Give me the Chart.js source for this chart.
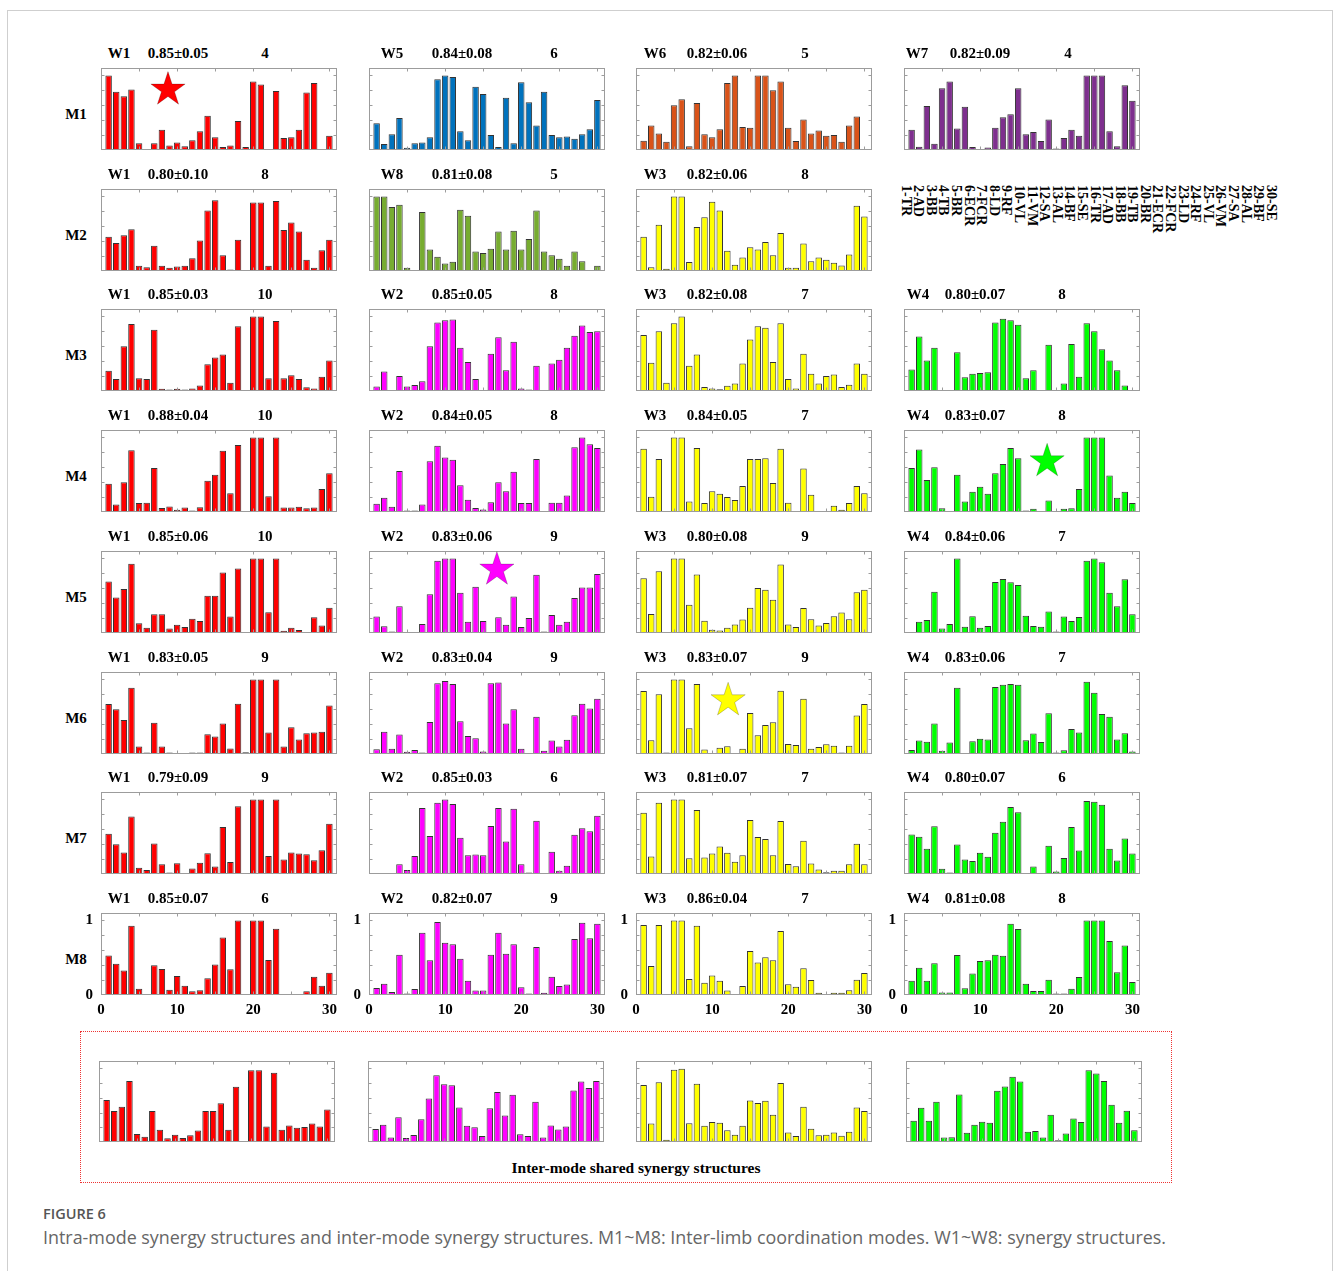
<!DOCTYPE html>
<html><head><meta charset="utf-8">
<script src="https://cdn.jsdelivr.net/npm/chart.js@4"></script>
<style>
body{margin:0;background:#fff;width:1333px;height:1271px;position:relative;overflow:hidden;}
.t{position:absolute;font:bold 15px 'Liberation Serif',serif;color:#000;transform:translate(-50%,-50%);white-space:nowrap;line-height:1;}
.m{position:absolute;font:bold 15px 'Liberation Serif',serif;color:#000;transform:translate(-50%,-50%);white-space:nowrap;line-height:1;}
canvas{position:absolute;}
#frame{position:absolute;left:7px;top:10px;width:1324px;height:1300px;border:1px solid #cfcfcf;}
#dash{position:absolute;left:80px;top:1031px;width:1090px;height:150px;border:1px dotted #ee3333;}
#muscles{position:absolute;left:899px;top:185px;writing-mode:vertical-lr;font:bold 14px 'Liberation Serif',serif;line-height:12.6px;color:#000;white-space:nowrap;}
#shared{position:absolute;left:636px;top:1168px;transform:translate(-50%,-50%);font:bold 15.5px 'Liberation Serif',serif;white-space:nowrap;}
#fig{position:absolute;left:43px;top:1204px;font:600 14.5px 'Open Sans',sans-serif;color:#555;}
#cap{position:absolute;left:43px;top:1225px;font:400 17.9px 'Open Sans',sans-serif;color:#666;white-space:nowrap;}
</style></head><body>
<div id="frame"></div>
<div id="dash"></div>
<div id="shared">Inter-mode shared synergy structures</div>
<div id="fig">FIGURE 6</div>
<div id="cap">Intra-mode synergy structures and inter-mode synergy structures. M1~M8: Inter-limb coordination modes. W1~W8: synergy structures.</div>
<div id="muscles"></div>
<script>
// ---------- data ----------
const muscles = ['1-TR','2-AD','3-BB','4-TB','5-BR','6-ECR','7-FCR','8-LD','9-RF','10-VL','11-VM','12-SA','13-AL','14-BF','15-SE','16-TR','17-AD','18-BB','19-TB','20-BR','21-ECR','22-FCR','23-LD','24-RF','25-VL','26-VM','27-SA','28-AL','29-BF','30-SE'];
const modes = ['M1','M2','M3','M4','M5','M6','M7','M8'];
const xTickLabels = [0,10,20,30];
const yTickLabels = [0,1];

const M1_W1 = [1.0,0.78,0.72,0.81,0.09,0.01,0.09,0.27,0.06,0.10,0.05,0.13,0.25,0.46,0.17,0.04,0.06,0.39,0.04,0.92,0.88,0.0,0.79,0.16,0.17,0.27,0.77,0.90,0.01,0.19];
const M1_W5 = [0.36,0.08,0.21,0.43,0.03,0.09,0.10,0.17,0.95,1.0,0.98,0.25,0.13,0.85,0.75,0.20,0.04,0.70,0.09,0.91,0.64,0.33,0.78,0.20,0.17,0.18,0.15,0.21,0.28,0.67];
const M1_W6 = [0.125,0.33,0.22,0.11,0.60,0.68,0.05,0.63,0.21,0.17,0.28,0.90,1.0,0.31,0.30,1.0,1.0,0.80,0.92,0.30,0.12,0.41,0.22,0.26,0.19,0.20,0.11,0.33,0.45,0.005];
const M1_W7 = [0.27,0.045,0.59,0.085,0.83,0.92,0.29,0.58,0.04,0.01,0.035,0.30,0.44,0.48,0.83,0.21,0.24,0.12,0.41,0.02,0.16,0.27,0.19,1.0,1.0,1.0,0.25,0.05,0.87,0.66];
const M2_W1 = [0.46,0.375,0.48,0.56,0.07,0.05,0.34,0.07,0.045,0.06,0.07,0.17,0.41,0.81,0.95,0.21,0.02,0.42,0.0,0.92,0.92,0.07,0.94,0.55,0.65,0.53,0.15,0.045,0.28,0.42];
const M2_W8 = [1.0,1.0,0.86,0.89,0.045,0.01,0.79,0.29,0.19,0.10,0.125,0.82,0.74,0.26,0.24,0.30,0.53,0.29,0.54,0.29,0.43,0.81,0.26,0.21,0.165,0.07,0.26,0.13,0.0,0.07];
const M2_W3 = [0.46,0.05,0.62,0.03,1.0,1.0,0.12,0.59,0.72,0.93,0.81,0.27,0.085,0.18,0.32,0.29,0.39,0.21,0.51,0.045,0.045,0.37,0.13,0.18,0.15,0.11,0.075,0.22,0.875,0.73];
const M3_W1 = [0.27,0.16,0.60,0.90,0.17,0.16,0.82,0.03,0.02,0.03,0.02,0.035,0.075,0.36,0.45,0.49,0.11,0.87,0.0,1.0,1.0,0.17,0.94,0.17,0.21,0.16,0.05,0.035,0.19,0.41];
const M3_W2 = [0.06,0.26,0.0,0.20,0.06,0.08,0.13,0.60,0.92,0.95,0.96,0.58,0.39,0.16,0.0,0.50,0.72,0.28,0.66,0.035,0.02,0.34,0.015,0.37,0.42,0.58,0.74,0.88,0.79,0.80];
const M3_W3 = [0.75,0.38,0.80,0.11,0.91,1.0,0.34,0.49,0.055,0.035,0.025,0.07,0.10,0.37,0.69,0.87,0.85,0.39,0.91,0.16,0.035,0.50,0.23,0.10,0.20,0.22,0.055,0.085,0.37,0.23];
const M3_W4 = [0.29,0.73,0.41,0.58,0.015,0.015,0.52,0.185,0.23,0.24,0.25,0.92,0.97,0.95,0.89,0.17,0.28,0.015,0.62,0.0,0.10,0.63,0.19,0.91,0.80,0.56,0.41,0.28,0.075,0.015];
const M4_W1 = [0.38,0.10,0.40,0.83,0.12,0.125,0.59,0.055,0.075,0.03,0.06,0.02,0.065,0.42,0.50,0.82,0.25,0.90,0.0,1.0,1.0,0.21,1.0,0.06,0.06,0.07,0.05,0.06,0.31,0.52];
const M4_W2 = [0.11,0.19,0.07,0.55,0.02,0.02,0.10,0.68,0.89,0.73,0.70,0.36,0.165,0.055,0.035,0.13,0.40,0.28,0.54,0.12,0.12,0.71,0.0,0.125,0.125,0.22,0.87,1.0,0.91,0.86];
const M4_W3 = [0.85,0.205,0.71,0.0,1.0,1.0,0.14,0.86,0.12,0.28,0.245,0.20,0.16,0.35,0.71,0.71,0.72,0.39,0.85,0.125,0.015,0.585,0.23,0.01,0.01,0.085,0.03,0.12,0.35,0.25];
const M4_W4 = [0.59,0.84,0.43,0.60,0.05,0.005,0.50,0.14,0.27,0.34,0.245,0.52,0.645,0.86,0.72,0.02,0.045,0.015,0.155,0.01,0.045,0.05,0.31,1.0,1.0,1.0,0.49,0.19,0.27,0.12];
const M5_W1 = [0.69,0.475,0.59,0.93,0.13,0.07,0.25,0.25,0.06,0.11,0.08,0.19,0.16,0.50,0.50,0.81,0.22,0.865,0.0,1.0,1.0,0.28,1.0,0.03,0.07,0.04,0.005,0.21,0.10,0.34];
const M5_W2 = [0.22,0.09,0.02,0.36,0.015,0.0,0.12,0.52,0.97,1.0,1.0,0.54,0.15,0.62,0.16,0.0,0.21,0.11,0.49,0.08,0.20,0.78,0.02,0.24,0.11,0.15,0.47,0.61,0.61,0.79];
const M5_W3 = [0.735,0.255,0.83,0.0,1.0,1.0,0.38,0.785,0.165,0.045,0.035,0.07,0.115,0.18,0.34,0.605,0.58,0.445,0.92,0.115,0.08,0.335,0.185,0.10,0.135,0.225,0.275,0.185,0.545,0.58];
const M5_W4 = [0.01,0.15,0.175,0.555,0.06,0.12,1.0,0.085,0.225,0.07,0.095,0.685,0.725,0.68,0.645,0.23,0.095,0.085,0.29,0.02,0.22,0.16,0.215,0.97,1.0,0.95,0.54,0.36,0.72,0.25];
const M6_W1 = [0.67,0.60,0.455,0.89,0.10,0.02,0.42,0.10,0.02,0.015,0.01,0.02,0.02,0.265,0.235,0.41,0.075,0.675,0.025,1.0,1.0,0.29,1.0,0.10,0.36,0.195,0.28,0.29,0.30,0.65];
const M6_W2 = [0.065,0.30,0.07,0.26,0.03,0.055,0.02,0.43,0.95,0.98,0.94,0.44,0.24,0.21,0.035,0.95,0.96,0.41,0.60,0.07,0.015,0.50,0.045,0.18,0.10,0.19,0.52,0.675,0.61,0.74];
const M6_W3 = [0.845,0.185,0.80,0.02,1.0,1.0,0.345,0.94,0.06,0.01,0.085,0.105,0.015,0.07,0.55,0.25,0.39,0.425,0.85,0.135,0.12,0.74,0.07,0.095,0.13,0.11,0.02,0.11,0.515,0.67];
const M6_W4 = [0.055,0.18,0.165,0.41,0.045,0.155,0.89,0.0,0.17,0.205,0.195,0.90,0.93,0.94,0.93,0.185,0.275,0.16,0.545,0.02,0.05,0.335,0.29,0.97,0.82,0.535,0.50,0.195,0.28,0.035];
const M7_W1 = [0.54,0.40,0.29,0.77,0.085,0.055,0.41,0.13,0.02,0.145,0.0,0.075,0.15,0.28,0.10,0.63,0.16,0.91,0.0,1.0,1.0,0.24,1.0,0.195,0.29,0.275,0.265,0.185,0.32,0.675];
const M7_W2 = [0.005,0.005,0.005,0.13,0.055,0.24,0.885,0.51,0.955,1.0,0.94,0.485,0.25,0.26,0.25,0.645,0.885,0.435,0.875,0.13,0.02,0.715,0.0,0.30,0.045,0.11,0.525,0.615,0.575,0.78];
const M7_W3 = [0.82,0.235,0.955,0.01,1.0,1.0,0.21,0.86,0.22,0.275,0.37,0.285,0.165,0.25,0.725,0.495,0.47,0.25,0.71,0.135,0.105,0.445,0.14,0.06,0.025,0.045,0.045,0.13,0.405,0.13];
const M7_W4 = [0.53,0.50,0.34,0.64,0.07,0.02,0.395,0.195,0.175,0.285,0.23,0.555,0.70,0.90,0.83,0.01,0.10,0.0,0.38,0.035,0.215,0.63,0.315,0.98,0.97,0.93,0.34,0.18,0.475,0.275];
const M8_W1 = [0.53,0.42,0.33,0.93,0.085,0.0,0.40,0.35,0.07,0.255,0.125,0.05,0.065,0.225,0.41,0.77,0.345,1.0,0.0,1.0,1.0,0.47,0.89,0.005,0.01,0.005,0.05,0.245,0.125,0.30];
const M8_W2 = [0.095,0.15,0.04,0.54,0.02,0.08,0.835,0.465,0.98,0.70,0.68,0.485,0.19,0.06,0.06,0.54,0.835,0.555,0.68,0.105,0.02,0.645,0.03,0.245,0.12,0.14,0.75,0.97,0.76,0.955];
const M8_W3 = [0.94,0.39,0.94,0.0,1.0,1.0,0.215,0.93,0.165,0.26,0.19,0.06,0.005,0.12,0.59,0.435,0.505,0.465,0.86,0.145,0.11,0.36,0.20,0.03,0.015,0.03,0.03,0.065,0.205,0.295];
const M8_W4 = [0.19,0.365,0.19,0.425,0.035,0.035,0.535,0.09,0.29,0.455,0.465,0.54,0.525,0.955,0.885,0.15,0.055,0.055,0.205,0.02,0.02,0.085,0.24,1.0,1.0,1.0,0.725,0.305,0.665,0.175];
const SH_W1 = [0.57,0.42,0.48,0.83,0.11,0.07,0.42,0.165,0.05,0.10,0.055,0.09,0.155,0.42,0.42,0.525,0.165,0.75,0.01,0.975,0.975,0.21,0.94,0.165,0.225,0.195,0.205,0.25,0.21,0.44];
const SH_W2 = [0.175,0.235,0.06,0.335,0.055,0.095,0.31,0.59,0.905,0.785,0.77,0.47,0.22,0.20,0.08,0.46,0.68,0.36,0.64,0.105,0.08,0.545,0.06,0.225,0.17,0.21,0.70,0.82,0.735,0.83];
const SH_W3 = [0.775,0.25,0.81,0.03,0.98,0.995,0.255,0.79,0.22,0.27,0.26,0.16,0.10,0.22,0.565,0.53,0.56,0.37,0.80,0.13,0.08,0.48,0.18,0.09,0.10,0.13,0.085,0.14,0.47,0.42];
const SH_W4 = [0.29,0.465,0.29,0.545,0.06,0.065,0.645,0.125,0.235,0.275,0.26,0.695,0.755,0.885,0.82,0.14,0.15,0.06,0.37,0.025,0.115,0.32,0.27,0.975,0.93,0.83,0.505,0.26,0.425,0.16];

// panel list: [row, col, synergy, similarity, count, values]
const panels = [
 [0,0,'W1','0.85±0.05','4',M1_W1],[0,1,'W5','0.84±0.08','6',M1_W5],[0,2,'W6','0.82±0.06','5',M1_W6],[0,3,'W7','0.82±0.09','4',M1_W7],
 [1,0,'W1','0.80±0.10','8',M2_W1],[1,1,'W8','0.81±0.08','5',M2_W8],[1,2,'W3','0.82±0.06','8',M2_W3],
 [2,0,'W1','0.85±0.03','10',M3_W1],[2,1,'W2','0.85±0.05','8',M3_W2],[2,2,'W3','0.82±0.08','7',M3_W3],[2,3,'W4','0.80±0.07','8',M3_W4],
 [3,0,'W1','0.88±0.04','10',M4_W1],[3,1,'W2','0.84±0.05','8',M4_W2],[3,2,'W3','0.84±0.05','7',M4_W3],[3,3,'W4','0.83±0.07','8',M4_W4],
 [4,0,'W1','0.85±0.06','10',M5_W1],[4,1,'W2','0.83±0.06','9',M5_W2],[4,2,'W3','0.80±0.08','9',M5_W3],[4,3,'W4','0.84±0.06','7',M5_W4],
 [5,0,'W1','0.83±0.05','9',M6_W1],[5,1,'W2','0.83±0.04','9',M6_W2],[5,2,'W3','0.83±0.07','9',M6_W3],[5,3,'W4','0.83±0.06','7',M6_W4],
 [6,0,'W1','0.79±0.09','9',M7_W1],[6,1,'W2','0.85±0.03','6',M7_W2],[6,2,'W3','0.81±0.07','7',M7_W3],[6,3,'W4','0.80±0.07','6',M7_W4],
 [7,0,'W1','0.85±0.07','6',M8_W1],[7,1,'W2','0.82±0.07','9',M8_W2],[7,2,'W3','0.86±0.04','7',M8_W3],[7,3,'W4','0.81±0.08','8',M8_W4]
];
const sharedPanels = [['W1',SH_W1],['W2',SH_W2],['W3',SH_W3],['W4',SH_W4]];
// highlighted synergies (star marker, in data units of the panel)
const stars = [[0,0,8.8,0.81],[3,3,18.8,0.68],[4,1,16.8,0.85],[5,2,12.1,0.72]];

// ---------- style / layout ----------
const colors = {W1:'#ff0000',W2:'#ff00ff',W3:'#ffff00',W4:'#00ff00',W5:'#0072bd',W6:'#d95319',W7:'#7e2f8e',W8:'#77ac30'};
const colLeft = [101,369,636,904];
const rowTop = [68,189,309,430,551,672,792,913];
const PW = 236, PH = 82;
const titleOff = [[18,77,164],[23,93,185],[19,81,169],[14,71,158]];
const sharedLeft = [99,368,636,906], sharedTop = 1061;
const PL = 34, PT = 4, PR = 14, PB = 26;

document.getElementById('muscles').innerHTML = muscles.join('<br>');

function addText(cls, txt, x, y){
  const d = document.createElement('div'); d.className = cls; d.textContent = txt;
  d.style.left = x + 'px'; d.style.top = y + 'px'; document.body.appendChild(d);
}
modes.forEach((m,i)=> addText('m', m, 76, rowTop[i] + 46));

function drawStar(ctx, cx, cy, R, color){
  ctx.beginPath();
  for(let k=0;k<10;k++){
    const r = k%2===0 ? R : R*0.382;
    const a = -Math.PI/2 + k*Math.PI/5;
    const px = cx + r*Math.cos(a), py = cy + r*Math.sin(a);
    k===0 ? ctx.moveTo(px,py) : ctx.lineTo(px,py);
  }
  ctx.closePath(); ctx.fillStyle = color; ctx.fill();
  ctx.lineWidth = 0.6; ctx.strokeStyle = 'rgba(0,0,0,0.35)'; ctx.stroke();
}

const framePlugin = {
  id:'frame',
  afterDatasetsDraw(chart, args, opts){
    const {ctx, chartArea:a, scales:{x,y}} = chart;
    ctx.save();
    ctx.strokeStyle = '#9c9c9c'; ctx.lineWidth = 1;
    const L = Math.round(a.left)+0.5, T = Math.round(a.top)+0.5, R = Math.round(a.right)-0.5, B = Math.round(a.bottom)-0.5;
    ctx.strokeRect(L, T, R-L, B-T);
    ctx.beginPath();
    for(let v=5; v<=30; v+=5){
      const px = Math.round(x.getPixelForValue(v))+0.5;
      ctx.moveTo(px,T); ctx.lineTo(px,T+3); ctx.moveTo(px,B); ctx.lineTo(px,B-3);
    }
    for(let k=1;k<=5;k++){
      const py = Math.round(y.getPixelForValue(k*0.2))+0.5;
      ctx.moveTo(L,py); ctx.lineTo(L+3,py); ctx.moveTo(R,py); ctx.lineTo(R-3,py);
    }
    ctx.stroke();
    if(opts.star){
      drawStar(ctx, x.getPixelForValue(opts.star[0]), y.getPixelForValue(opts.star[1]), 18, opts.star[2]);
    }
    ctx.restore();
  }
};

const xTickFont = {family:"'Liberation Serif', serif", weight:'bold', size:15};
const yTickFont = {family:"'Liberation Serif', serif", weight:'bold', size:15, lineHeight:0.2};

function makeChart(left, top, w, h, values, color, showTicks, star){
  const cv = document.createElement('canvas');
  cv.width = w + PL + PR; cv.height = h + PT + PB;
  cv.style.left = (left - PL) + 'px'; cv.style.top = (top - PT) + 'px';
  document.body.appendChild(cv);
  new Chart(cv, {
    type:'bar',
    data:{datasets:[{
      data: values.map((v,i)=>({x:i+1, y:v})),
      backgroundColor: color, borderColor:'#333333', borderWidth:1, borderSkipped:false,
      barPercentage:0.85, categoryPercentage:1.0
    }]},
    options:{
      responsive:false, animation:false, devicePixelRatio:1,
      layout:{padding:{left:0, top:PT, right:PR, bottom:0}},
      plugins:{legend:{display:false}, tooltip:{enabled:false}, frame:{star:star}},
      scales:{
        x:{type:'linear', min:0, max:31, offset:false,
           grid:{display:false, offset:false}, border:{display:false},
           afterBuildTicks: s => { s.ticks = xTickLabels.map(v=>({value:v})); },
           afterFit: s => { s.height = PB; },
           ticks:{display:showTicks, font:xTickFont, color:'#000', padding:-2, maxRotation:0}},
        y:{min:0, max:1.1, grid:{display:false}, border:{display:false},
           afterBuildTicks: s => { s.ticks = yTickLabels.map(v=>({value:v})); },
           afterFit: s => { s.width = PL; },
           ticks:{display:showTicks, font:yTickFont, color:'#000', padding:0}}
      }
    },
    plugins:[framePlugin]
  });
}

panels.forEach(p=>{
  const [r,c,w,sim,n,vals] = p;
  const st = stars.find(s=>s[0]===r && s[1]===c);
  makeChart(colLeft[c], rowTop[r], PW, PH, vals, colors[w], r===7, st ? [st[2], st[3], colors[w]] : null);
  const off = (r===0 && c===3) ? [13,76,164] : titleOff[c];
  const ty = rowTop[r] - 15;
  addText('t', w, colLeft[c]+off[0], ty);
  addText('t', sim, colLeft[c]+off[1], ty);
  addText('t', n, colLeft[c]+off[2], ty);
});
sharedPanels.forEach((p,i)=>{
  makeChart(sharedLeft[i], sharedTop, PW, 81, p[1], colors[p[0]], false, null);
});
</script>
</body></html>
